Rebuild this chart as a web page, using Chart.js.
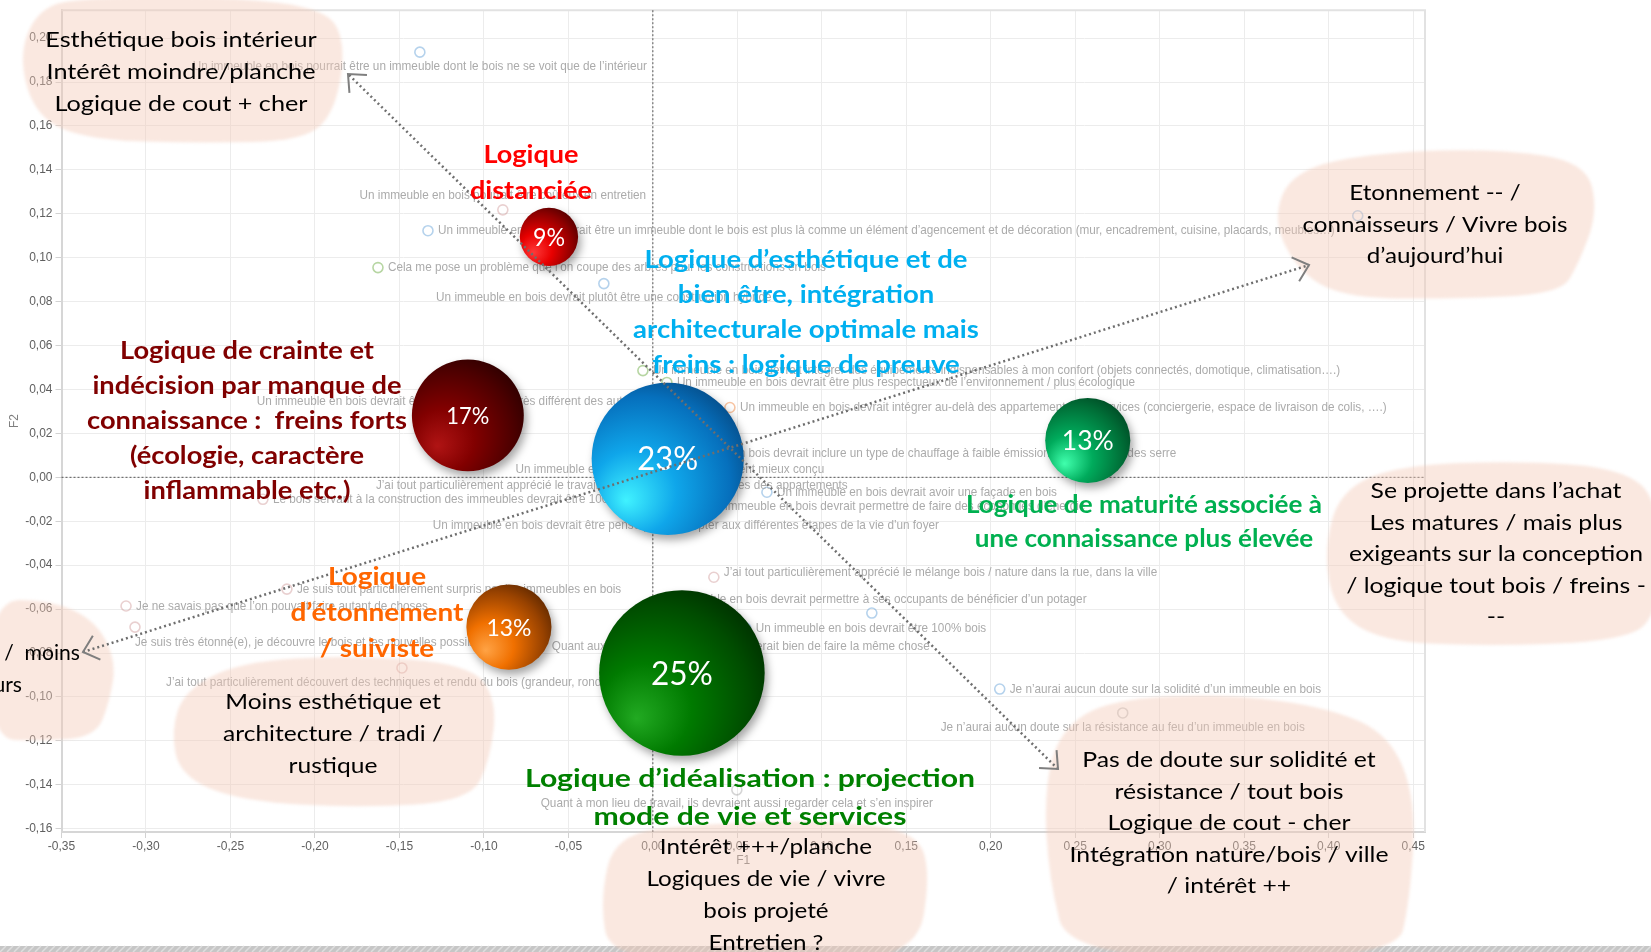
<!DOCTYPE html>
<html lang="fr">
<head>
<meta charset="utf-8">
<title>Carte factorielle F1 / F2 – logiques de perception du bois</title>
<script src="https://cdn.jsdelivr.net/npm/chart.js@4.4.1/dist/chart.umd.min.js"></script>
<style>
  html, body { margin: 0; padding: 0; background: #fff; }
  #wrap { position: relative; width: 1651px; height: 952px; overflow: hidden; }
</style>
</head>
<body>
<div id="wrap"><canvas id="carte" width="1651" height="952"></canvas></div>
<script>
// --- modalités projetées sur F1 / F2 ---
const itemLabels = [
  "Un immeuble en bois pourrait être un immeuble dont le bois ne se voit que de l’intérieur",
  "Un immeuble en bois pourrait être coûteux en entretien",
  "Un immeuble en bois pourrait être un immeuble dont le bois est plus là comme un élément d’agencement et de décoration (mur, encadrement, cuisine, placards, meubles…)",
  "Cela me pose un problème que l’on coupe des arbres pour les constructions en bois",
  "Un immeuble en bois devrait plutôt être une construction hybride",
  "Un immeuble en bois devrait être esthétiquement très différent des autres immeubles",
  "Un immeuble en bois devrait être globalement mieux conçu",
  "J’ai tout particulièrement apprécié le travail sur la lumière et les volumes des appartements",
  "Le bois servant à la construction des immeubles devrait être 100% français",
  "Un immeuble en bois devrait être pensé pour s’adapter aux différentes étapes de la vie d’un foyer",
  "Un immeuble en bois devrait être plus respectueux de l’environnement / plus écologique",
  "Un immeuble en bois devrait intégrer des équipements indispensables à mon confort (objets connectés, domotique, climatisation….)",
  "Un immeuble en bois devrait intégrer au-delà des appartements des services (conciergerie, espace de livraison de colis, ….)",
  "Un immeuble en bois devrait inclure un type de chauffage à faible émission de gaz à effet des serre",
  "Un immeuble en bois devrait avoir une façade en bois",
  "Un immeuble en bois devrait permettre de faire des économies d’énergie",
  "J’ai tout particulièrement apprécié le mélange bois / nature dans la rue, dans la ville",
  "Un immeuble en bois devrait permettre à ses occupants de bénéficier d’un potager",
  "Un immeuble en bois devrait être 100% bois",
  "Quant aux équipements de quartier, il serait bien de faire la même chose",
  "Je n’aurai aucun doute sur la solidité d’un immeuble en bois",
  "Je n’aurai aucun doute sur la résistance au feu d’un immeuble en bois",
  "Quant à mon lieu de travail, ils devraient aussi regarder cela et s’en inspirer",
  "Je suis tout particulièrement surpris par les immeubles en bois",
  "Je ne savais pas que l’on pouvait faire autant de choses",
  "Je suis très étonné(e), je découvre le bois et les nouvelles possibilités",
  "J’ai tout particulièrement découvert des techniques et rendu du bois (grandeur, rondeur, ...)",
  ""
];
const itemF1 = [
  -0.1379, -0.0888, -0.1331, -0.1627, -0.0290, -0.1036, 0.0101, -0.0243, -0.2308, 0.0195,
  0.0083, -0.0059, 0.0456, -0.0018, 0.0675, 0.0260, 0.0361, 0.1296, 0.0550, 0.0520,
  0.2053, 0.2781, 0.0497, -0.2166, -0.3118, -0.3065, -0.1485, 0.4172
];
const itemF2 = [
  0.1936, 0.1218, 0.1123, 0.0955, 0.0882, 0.0282, -0.0027, -0.0100, -0.0100, -0.0155,
  0.0432, 0.0486, 0.0318, 0.0109, -0.0068, -0.0132, -0.0455, -0.0618, -0.0686, -0.0836,
  -0.0964, -0.1073, -0.1423, -0.0509, -0.0586, -0.0682, -0.0868, 0.1191
];
const itemGroup = [
  'bleu', 'rose', 'bleu', 'vert', 'bleu', 'rose', 'bleu', 'rose', 'rose', 'bleu',
  'vert', 'vert', 'orange', 'bleu', 'bleu', 'bleu', 'rose', 'bleu', 'bleu', 'rose',
  'bleu', 'gris', 'gris', 'rose', 'rose', 'rose', 'rose', 'bleu'
];

// --- groupes (part des répondants) ---
const clusterShare = [9, 17, 23, 13, 13, 25];
const clusterF1 = [-0.0615, -0.1095, 0.0088, 0.2574, -0.0852, 0.0172];
const clusterF2 = [0.1095, 0.0282, 0.0084, 0.0168, -0.0682, -0.0891];

// --- graduations ---
const xTicks = [-0.35, -0.30, -0.25, -0.20, -0.15, -0.10, -0.05, 0.00, 0.05, 0.10, 0.15, 0.20, 0.25, 0.30, 0.35, 0.40, 0.45];
const yTicks = [-0.16, -0.14, -0.12, -0.10, -0.08, -0.06, -0.04, -0.02, 0.00, 0.02, 0.04, 0.06, 0.08, 0.10, 0.12, 0.14, 0.16, 0.18, 0.20];

// styles
const groupColor = {
  bleu: 'rgba(91,155,213,0.45)',
  vert: 'rgba(112,173,71,0.5)',
  orange: 'rgba(237,125,49,0.45)',
  rose: 'rgba(192,120,120,0.35)',
  gris: 'rgba(150,150,150,0.4)'
};
const itemPlacement = [
  'below', 'above', 'right', 'right', 'below', 'above', 'above', 'above', 'right', 'below',
  'right', 'right', 'right', 'right', 'right', 'right', 'rightUp', 'above', 'right', 'above',
  'right', 'below', 'below', 'right', 'right', 'belowLeft', 'below', 'right'
];
const clusterTint = [
  ['#ff3a3a', '#e80000', '#8c0000', '#380000'],
  ['#b01414', '#820000', '#4c0000', '#1e0000'],
  ['#40f2ff', '#0fa6ea', '#0670bd', '#053c70'],
  ['#40ffad', '#00ab5c', '#006e37', '#003a1c'],
  ['#ffa345', '#f07000', '#984200', '#461d00'],
  ['#22aa22', '#007a00', '#004c00', '#002200']
];
const pctStyle = [
  { size: 25, width: 32 }, { size: 23, width: 43 }, { size: 32, width: 61 },
  { size: 26, width: 52 }, { size: 24, width: 45 }, { size: 32, width: 62 }
];

const fr = v => v.toFixed(2).replace('.', ',');
const tickFont = { family: "'Liberation Sans Narrow', 'Liberation Sans', Arial, sans-serif", size: 12 };
const textFamily = "Lato, 'Open Sans', sans-serif";

// texte des commentaires posés sur la carte
const notes = [
  { lines: ['Logique', 'distanciée'], color: '#ff0000', bold: true, size: 24, x: 531, y: 163, lh: 36, fit: 1, width: 122 },
  { lines: ['Logique d’esthétique et de', 'bien être, intégration', 'architecturale optimale mais', 'freins : logique de preuve'],
    color: '#00b0f0', bold: true, size: 25, x: 806, y: 268, lh: 35, fit: 0, width: 323 },
  { lines: ['Logique de crainte et', 'indécision par manque de', 'connaissance :  freins forts', '(écologie, caractère', 'inflammable etc.)'],
    color: '#800000', bold: true, size: 24, x: 247, y: 359, lh: 35, fit: 2, width: 320 },
  { lines: ['Logique de maturité associée à', 'une connaissance plus élevée'], color: '#00b050', bold: true, size: 24, x: 1144, y: 513, lh: 34, fit: 0, width: 356 },
  { lines: ['Logique', 'd’étonnement', '/ suiviste'], color: '#ff6600', bold: true, size: 24, x: 377, y: 585, lh: 36, fit: 1, width: 173 },
  { lines: ['Logique d’idéalisation : projection', 'mode de vie et services'], color: '#008000', bold: true, size: 25, x: 750, y: 787, lh: 38, fit: 0, width: 450 },
  { lines: ['Esthétique bois intérieur', 'Intérêt moindre/planche', 'Logique de cout + cher'], color: '#000', size: 22, x: 181, y: 47, lh: 32, fit: 1, width: 269 },
  { lines: ['Etonnement -- /', 'connaisseurs / Vivre bois', 'd’aujourd’hui'], color: '#000', size: 22, x: 1435, y: 200, lh: 31.5, fit: 1, width: 265 },
  { lines: ['Se projette dans l’achat', 'Les matures / mais plus', 'exigeants sur la conception', '/ logique tout bois / freins -', '--'],
    color: '#000', size: 22, x: 1496, y: 498, lh: 31.5, fit: 2, width: 294 },
  { lines: ['Moins esthétique et', 'architecture / tradi /', 'rustique'], color: '#000', size: 22, x: 333, y: 709, lh: 32, fit: 1, width: 220 },
  { lines: ['Intérêt +++/planche', 'Logiques de vie / vivre', 'bois projeté', 'Entretien ?'], color: '#000', size: 22, x: 766, y: 854, lh: 32, fit: 1, width: 239 },
  { lines: ['Pas de doute sur solidité et', 'résistance / tout bois', 'Logique de cout - cher', 'Intégration nature/bois / ville', '/ intérêt ++'],
    color: '#000', size: 22, x: 1229, y: 767, lh: 31.5, fit: 3, width: 319 },
  { lines: ['Etonnement ++ /  moins', 'connaisseurs'], color: '#000', size: 22, xs: [80, 22], align: 'right', y: 660, lh: 32, fit: 0, width: 225 }
];

// taches roses derrière les commentaires
const blobs = [
  [[40, 6], [18, 55], [36, 118], [90, 140], [200, 143], [305, 141], [336, 110], [346, 40], [322, 6], [200, -4], [90, -2]],
  [[1292, 170], [1380, 152], [1500, 149], [1586, 162], [1598, 212], [1578, 265], [1560, 294], [1450, 299], [1350, 298], [1302, 276], [1272, 222]],
  [[1340, 490], [1400, 465], [1520, 461], [1620, 468], [1660, 500], [1660, 620], [1612, 642], [1480, 646], [1380, 641], [1334, 610], [1324, 550]],
  [[-10, 600], [50, 600], [95, 620], [116, 660], [110, 700], [96, 737], [40, 741], [-10, 739]],
  [[185, 690], [240, 662], [350, 655], [470, 664], [497, 700], [490, 760], [470, 801], [360, 808], [240, 801], [180, 776], [171, 730]],
  [[615, 834], [700, 824], [820, 820], [915, 830], [931, 872], [916, 960], [760, 962], [610, 960], [600, 900]],
  [[1060, 730], [1110, 699], [1230, 694], [1330, 708], [1390, 735], [1416, 800], [1410, 900], [1396, 960], [1070, 960], [1049, 880], [1044, 790]]
];

// flèches pointillées (extrémités)
const arrows = [
  [1058, 769, 348, 74],
  [83, 652, 1309, 265]
];

function bubbleFill(context) {
  const tint = clusterTint[context.dataIndex];
  if (!tint) return '#888';
  const chart = context.chart;
  const raw = context.raw;
  if (!chart.chartArea || !raw) return tint[1];
  const x = chart.scales.x.getPixelForValue(raw.x);
  const y = chart.scales.y.getPixelForValue(raw.y);
  const r = raw.r;
  const g = chart.ctx.createRadialGradient(x - 0.55 * r, y + 0.55 * r, 0, x - 0.25 * r, y + 0.25 * r, 1.6 * r);
  g.addColorStop(0, tint[0]);
  g.addColorStop(0.35, tint[1]);
  g.addColorStop(0.72, tint[2]);
  g.addColorStop(1, tint[3]);
  return g;
}

function smoothShape(ctx, pts) {
  const n = pts.length;
  ctx.beginPath();
  ctx.moveTo((pts[n - 1][0] + pts[0][0]) / 2, (pts[n - 1][1] + pts[0][1]) / 2);
  for (let i = 0; i < n; i++) {
    const a = pts[i], b = pts[(i + 1) % n];
    ctx.quadraticCurveTo(a[0], a[1], (a[0] + b[0]) / 2, (a[1] + b[1]) / 2);
  }
  ctx.closePath();
}

function drawHead(ctx, tx, ty, fx, fy) {
  const ang = Math.atan2(fy - ty, fx - tx);
  const len = 19, spread = 0.72;
  ctx.beginPath();
  ctx.moveTo(tx + len * Math.cos(ang - spread), ty + len * Math.sin(ang - spread));
  ctx.lineTo(tx, ty);
  ctx.lineTo(tx + len * Math.cos(ang + spread), ty + len * Math.sin(ang + spread));
  ctx.stroke();
}

function drawNote(ctx, b) {
  ctx.save();
  ctx.font = (b.bold ? '700 ' : '400 ') + b.size + 'px ' + textFamily;
  ctx.fillStyle = b.color;
  ctx.textBaseline = 'alphabetic';
  ctx.textAlign = b.align || 'center';
  const s = b.width / ctx.measureText(b.lines[b.fit]).width;
  b.lines.forEach((t, i) => {
    ctx.save();
    ctx.translate(b.xs ? b.xs[i] : b.x, b.y + i * b.lh);
    ctx.scale(s, 1);
    ctx.fillText(t, 0, 0);
    ctx.restore();
  });
  ctx.restore();
}

const decor = {
  id: 'decor',
  beforeDatasetsDraw(chart) {
    const { ctx, chartArea: a, scales } = chart;
    ctx.save();
    // cadre haut et droit
    ctx.strokeStyle = '#e2e2e2';
    ctx.lineWidth = 2;
    ctx.beginPath();
    ctx.moveTo(a.left, a.top);
    ctx.lineTo(a.right, a.top);
    ctx.lineTo(a.right, a.bottom);
    ctx.stroke();
    // axes passant par l'origine
    const x0 = scales.x.getPixelForValue(0);
    const y0 = scales.y.getPixelForValue(0);
    ctx.strokeStyle = '#555';
    ctx.lineWidth = 1;
    ctx.setLineDash([2, 2]);
    ctx.beginPath();
    ctx.moveTo(x0, a.top);
    ctx.lineTo(x0, a.bottom);
    ctx.moveTo(a.left, y0);
    ctx.lineTo(a.right, y0);
    ctx.stroke();
    ctx.restore();
  },
  beforeDatasetDraw(chart, args) {
    if (args.index !== 1) return;
    const ctx = chart.ctx;
    ctx.save();
    ctx.shadowColor = 'rgba(0,0,0,0.35)';
    ctx.shadowBlur = 9;
    ctx.shadowOffsetX = 3;
    ctx.shadowOffsetY = 5;
  },
  afterDatasetDraw(chart, args) {
    const ctx = chart.ctx;
    if (args.index === 1) {
      ctx.restore();
      return;
    }
    // libellés des modalités
    ctx.save();
    ctx.font = '13px "Liberation Sans", Arial, sans-serif';
    ctx.fillStyle = '#ababab';
    ctx.textBaseline = 'middle';
    const s = 280 / ctx.measureText(itemLabels[14]).width;
    args.meta.data.forEach((pt, i) => {
      const txt = itemLabels[i];
      if (!txt) return;
      const pos = itemPlacement[i];
      let x = pt.x, y = pt.y, align = 'center';
      if (pos === 'right' || pos === 'rightUp') { x += 10; align = 'left'; if (pos === 'rightUp') y -= 5; }
      else if (pos === 'above') y -= 14;
      else if (pos === 'below') y += 14;
      else if (pos === 'belowLeft') { y += 15; align = 'left'; }
      ctx.save();
      ctx.translate(x, y);
      ctx.scale(s, 1);
      ctx.textAlign = align;
      ctx.fillText(txt, 0, 0);
      ctx.restore();
    });
    ctx.restore();
  },
  afterDatasetsDraw(chart) {
    const { ctx, chartArea: a } = chart;
    ctx.save();

    // pourcentages dans les bulles
    const meta = chart.getDatasetMeta(1);
    meta.data.forEach((el, i) => {
      const st = pctStyle[i];
      ctx.save();
      ctx.font = '400 ' + st.size + 'px ' + textFamily;
      ctx.fillStyle = '#fff';
      ctx.textAlign = 'center';
      ctx.textBaseline = 'alphabetic';
      const txt = clusterShare[i] + '%';
      const k = st.width / ctx.measureText(txt).width;
      ctx.translate(el.x, el.y + st.size * 0.36);
      ctx.scale(k, 1);
      ctx.fillText(txt, 0, 0);
      ctx.restore();
    });

    // titres d'axes
    ctx.font = '12px "Liberation Sans Narrow", "Liberation Sans", sans-serif';
    ctx.fillStyle = '#7f7f7f';
    ctx.textAlign = 'center';
    ctx.textBaseline = 'middle';
    ctx.fillText('F1', (a.left + a.right) / 2, 861);
    ctx.save();
    ctx.translate(15, (a.top + a.bottom) / 2);
    ctx.rotate(-Math.PI / 2);
    ctx.fillText('F2', 0, 0);
    ctx.restore();

    // bandeau hachuré en pied de page
    ctx.fillStyle = '#c6c6c6';
    ctx.fillRect(0, 946, 1651, 6);
    ctx.strokeStyle = '#dedede';
    ctx.lineWidth = 1.5;
    ctx.beginPath();
    for (let x = 0; x < 1660; x += 7) {
      ctx.moveTo(x, 952);
      ctx.lineTo(x + 6, 946);
    }
    ctx.stroke();

    // taches roses
    ctx.save();
    ctx.filter = 'blur(1.5px)';
    ctx.fillStyle = 'rgba(244,200,180,0.42)';
    blobs.forEach(p => { smoothShape(ctx, p); ctx.fill(); });
    ctx.restore();

    // flèches
    arrows.forEach(([x1, y1, x2, y2]) => {
      ctx.save();
      ctx.strokeStyle = '#6e6e6e';
      ctx.lineWidth = 2.5;
      ctx.setLineDash([2, 3]);
      ctx.beginPath();
      ctx.moveTo(x1, y1);
      ctx.lineTo(x2, y2);
      ctx.stroke();
      ctx.setLineDash([]);
      ctx.strokeStyle = '#7f7f7f';
      ctx.lineWidth = 2;
      drawHead(ctx, x1, y1, x2, y2);
      drawHead(ctx, x2, y2, x1, y1);
      ctx.restore();
    });

    notes.forEach(b => drawNote(ctx, b));
    ctx.restore();
  }
};

const ctx = document.getElementById('carte').getContext('2d');
new Chart(ctx, {
  type: 'bubble',
  data: {
    datasets: [
      {
        type: 'scatter',
        label: 'Modalités',
        data: itemF1.map((x, i) => ({ x: x, y: itemF2[i] })),
        pointRadius: 5,
        pointHoverRadius: 5,
        pointBorderWidth: 1.6,
        pointBackgroundColor: 'rgba(0,0,0,0)',
        pointBorderColor: itemGroup.map(g => groupColor[g]),
        order: 2
      },
      {
        type: 'bubble',
        label: 'Groupes',
        data: clusterF1.map((x, i) => ({ x: x, y: clusterF2[i], r: clusterShare[i] * 3.35 - 1 })),
        backgroundColor: bubbleFill,
        borderWidth: 0,
        order: 1
      }
    ]
  },
  options: {
    responsive: false,
    animation: false,
    devicePixelRatio: 1,
    layout: { autoPadding: false, padding: { left: 0, top: 8, right: 226, bottom: 0 } },
    plugins: { legend: { display: false }, tooltip: { enabled: false } },
    scales: {
      x: {
        type: 'linear',
        min: -0.35,
        max: 0.457,
        afterBuildTicks: s => { s.ticks = xTicks.map(v => ({ value: v })); },
        afterFit: s => { s.height = 120; },
        grid: { color: '#ececec', tickColor: '#d2d2d2', tickLength: 6 },
        border: { color: '#d6d6d6', width: 2 },
        ticks: { callback: v => fr(v), font: tickFont, color: '#5f5f5f', padding: 1, maxRotation: 0, autoSkip: false }
      },
      y: {
        type: 'linear',
        min: -0.1615,
        max: 0.2127,
        afterBuildTicks: s => { s.ticks = yTicks.map(v => ({ value: v })); },
        afterFit: s => { s.width = 61.5; },
        grid: { color: '#ececec', tickColor: '#d2d2d2', tickLength: 6 },
        border: { color: '#d6d6d6', width: 2 },
        ticks: { callback: v => fr(v), font: tickFont, color: '#5f5f5f', padding: 3, autoSkip: false }
      }
    }
  },
  plugins: [decor]
});
</script>
</body>
</html>
